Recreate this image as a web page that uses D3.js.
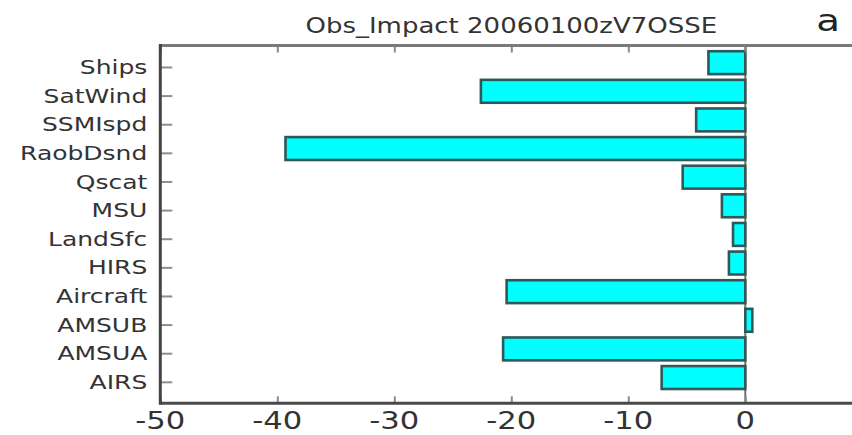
<!DOCTYPE html>
<html>
<head>
<meta charset="utf-8">
<script src="https://cdn.jsdelivr.net/npm/d3@7"></script>
<style>
  html, body { margin: 0; padding: 0; background: #fff; }
  svg { display: block; }
  text { font-family: "DejaVu Sans", sans-serif; }
</style>
</head>
<body>
<svg id="chart" width="852" height="435"></svg>
<script>
// Observation impact per instrument, listed top to bottom
const categories = ["Ships", "SatWind", "SSMIspd", "RaobDsnd", "Qscat", "MSU",
                    "LandSfc", "HIRS", "Aircraft", "AMSUB", "AMSUA", "AIRS"];
const impact = [-3.15, -22.6, -4.2, -39.3, -5.35, -2.0,
                -1.05, -1.4, -20.4, 0.6, -20.7, -7.15];
const xTicks = [-50, -40, -30, -20, -10, 0, 10];
const xTickLabels = ["-50", "-40", "-30", "-20", "-10", "0"];
const title = "Obs_Impact 20060100zV7OSSE";
const panelTag = "a";

const W = 852, H = 435;
const plot = { left: 160.3, right: 862.3, top: 45.5, bottom: 403.3 };
const stretch = 1.25; // glyphs are drawn horizontally widened

const svg = d3.select("#chart");
const n = categories.length;

const x = d3.scaleLinear().domain([-50, 10]).range([plot.left, plot.right]);
// bar k occupies [i, i+0.8] with i counted from the bottom
const y = d3.scaleLinear().domain([-0.5, 12]).range([plot.bottom, plot.top]);
const rowIndex = k => n - 1 - k;
const barH = 0.8, tickOffset = 0.25;

const g = svg.append("g");

// vertical reference line at zero
g.append("line")
  .attr("x1", x(0)).attr("x2", x(0))
  .attr("y1", plot.top).attr("y2", plot.bottom)
  .attr("stroke", "#6e6e6e").attr("stroke-width", 2);

// bars
g.selectAll("rect.bar")
  .data(impact)
  .join("rect")
  .attr("class", "bar")
  .attr("x", d => x(Math.min(0, d)))
  .attr("width", d => Math.abs(x(d) - x(0)))
  .attr("y", (d, k) => y(rowIndex(k) + barH))
  .attr("height", (d, k) => y(rowIndex(k)) - y(rowIndex(k) + barH))
  .attr("fill", "#00ffff")
  .attr("stroke", "#2f5858")
  .attr("stroke-width", 2.6);

// x axis ticks (inward, top and bottom)
const xAxisBottom = d3.axisBottom(x).tickValues(xTicks).tickSize(-7).tickFormat("");
const xAxisTop = d3.axisTop(x).tickValues(xTicks).tickSize(-7).tickFormat("");
const gxb = g.append("g").attr("transform", `translate(0,${plot.bottom})`).call(xAxisBottom);
const gxt = g.append("g").attr("transform", `translate(0,${plot.top})`).call(xAxisTop);
[gxb, gxt].forEach(a => {
  a.select(".domain").remove();
  a.selectAll(".tick line").attr("stroke", "#8a8a8a").attr("stroke-width", 2);
});

// y axis ticks (inward, left)
const yTickVals = categories.map((c, k) => rowIndex(k) + tickOffset);
const yAxis = d3.axisLeft(y).tickValues(yTickVals).tickSize(-12).tickFormat("");
const gy = g.append("g").attr("transform", `translate(${plot.left},0)`).call(yAxis);
gy.select(".domain").remove();
gy.selectAll(".tick line").attr("stroke", "#8e8e8e").attr("stroke-width", 2);

// frame
g.append("line").attr("x1", plot.left).attr("x2", plot.right)
  .attr("y1", plot.top).attr("y2", plot.top)
  .attr("stroke", "#7a7a7a").attr("stroke-width", 3);
g.append("line").attr("x1", plot.left).attr("x2", plot.right)
  .attr("y1", plot.bottom).attr("y2", plot.bottom)
  .attr("stroke", "#4a4a4a").attr("stroke-width", 3);
g.append("line").attr("x1", plot.left).attr("x2", plot.left)
  .attr("y1", plot.top - 1.5).attr("y2", plot.bottom + 1.5)
  .attr("stroke", "#444").attr("stroke-width", 3);

// helper for widened text
function label(parent, str, px, py, size, anchor, baseline, fill) {
  return parent.append("text")
    .attr("transform", `translate(${px},${py}) scale(${stretch},1)`)
    .attr("text-anchor", anchor)
    .attr("dominant-baseline", baseline)
    .attr("font-size", size)
    .attr("fill", fill)
    .text(str);
}

// category labels
categories.forEach((c, k) => {
  label(g, c, plot.left - 13, y(rowIndex(k) + tickOffset), 20, "end", "central", "#333");
});

// x tick labels
xTickLabels.forEach((t, i) => {
  label(g, t, x(xTicks[i]), 428.5, 24.5, "middle", "alphabetic", "#333");
});

// title and panel letter
label(g, title, (plot.left + plot.right) / 2, 33, 20.8, "middle", "alphabetic", "#333");
label(g, panelTag, 828, 31, 31, "middle", "alphabetic", "#222");
</script>
</body>
</html>
